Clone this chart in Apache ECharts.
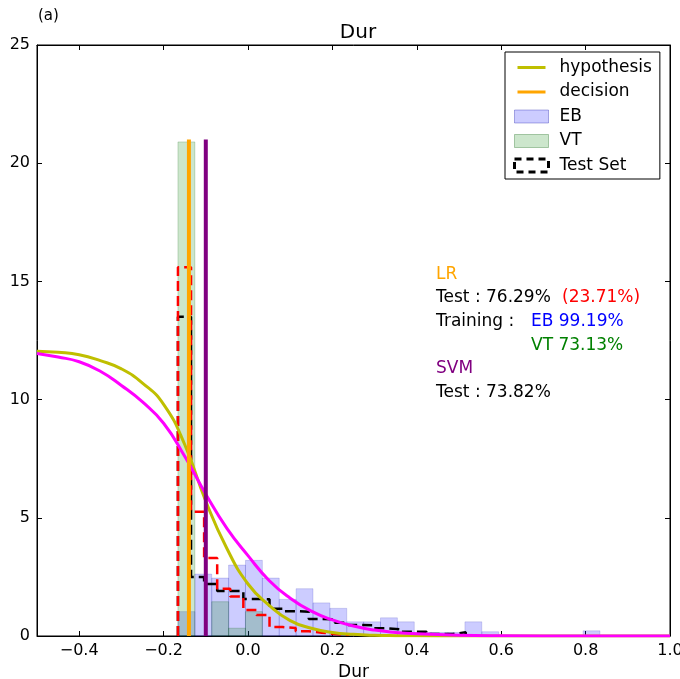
<!DOCTYPE html>
<html><head><meta charset="utf-8">
<script src="https://cdn.jsdelivr.net/npm/echarts@6/dist/echarts.min.js"></script>
<style>html,body{margin:0;padding:0;background:#fff}#c{width:680px;height:679px}</style>
</head><body><div id="c"></div>
<script>
// ---- data ----
const histStart = -0.166;
const ebBinWidth = 0.04;
const ebCounts = [1.03, 2.62, 2.45, 3.0, 3.2, 2.45, 1.55, 2.0, 1.4, 1.17, 0.6, 0.6, 0.77, 0.6, 0.15, 0.15, 0.15, 0.6, 0.18, 0, 0, 0, 0, 0, 0.22];
const vtCounts = [20.9, 0, 1.45, 0.33, 1.03];
const testBinWidth = 0.031;
const testSetCounts = [13.5, 2.5, 2.2, 1.9, 1.9, 1.57, 1.55, 1.15, 1.05, 1.03, 0.72, 0.7, 0.56, 0.47, 0.45, 0.33, 0.28, 0.18, 0.18, 0.08, 0.08, 0.16];
const testRedCounts = [15.6, 5.26, 3.3, 2.0, 1.67, 1.1, 0.89, 0.38, 0.34, 0.2, 0.14, 0.08, 0.05];
const curveX = [-0.5, -0.45, -0.4, -0.35, -0.3, -0.25, -0.2, -0.15, -0.1, -0.05, 0.0, 0.05, 0.1, 0.15, 0.2, 0.25, 0.3, 0.35, 0.4, 0.5, 0.6, 0.8, 1.0];
const hypothesisY = [12.05, 12.0, 11.9, 11.65, 11.3, 10.7, 9.8, 8.1, 5.7, 3.7, 2.2, 1.3, 0.65, 0.33, 0.15, 0.07, 0.03, 0.015, 0.01, 0, 0, 0, 0];
const svmCurveY = [11.95, 11.8, 11.6, 11.2, 10.6, 9.9, 9.0, 7.6, 6.0, 4.55, 3.4, 2.35, 1.6, 1.05, 0.68, 0.42, 0.25, 0.15, 0.09, 0.03, 0.01, 0, 0];
const decisionX = -0.14;
const svmX = -0.1;
const vLineTop = 21;
const yTickLabels = ['0', '5', '10', '15', '20', '25'];
const xTickLabels = ['\u22120.4', '\u22120.2', '0.0', '0.2', '0.4', '0.6', '0.8', '1.0'];

// ---- build ----
const FONT = 'DejaVu Sans';
function stepData(start, w, counts) {
  const pts = [[start, 0]];
  counts.forEach((c, i) => pts.push([start + i * w, c]));
  pts.push([start + counts.length * w, 0]);
  return pts;
}
function barSeries(name, counts, w, color, border, z) {
  return {
    type: 'custom', name, z,
    data: counts.map((c, i) => [histStart + i * w, histStart + (i + 1) * w, c]).filter(d => d[2] > 0),
    encode: { x: [0, 1], y: 2 },
    itemStyle: { color },
    renderItem(params, api) {
      const p0 = api.coord([api.value(0), 0]);
      const p1 = api.coord([api.value(1), api.value(2)]);
      return { type: 'rect', shape: { x: p0[0], y: p1[1], width: p1[0] - p0[0], height: p0[1] - p1[1] },
        style: { fill: color, stroke: border, lineWidth: 1 } };
    }
  };
}
function fmtX(v) {
  const s = (Math.round(v * 10) / 10).toFixed(1);
  const lab = s.replace('-', '\u2212');
  return xTickLabels.indexOf(lab) >= 0 ? lab : '';
}
function fmtY(v) { const s = String(Math.round(v)); return yTickLabels.indexOf(s) >= 0 ? s : ''; }

const EB_C = 'rgba(0,0,255,0.2)', VT_C = 'rgba(0,128,0,0.2)';
const linePath = 'path://M0,0h0.01v0.01h-0.01z M33.99,12.99h0.01v0.01h-0.01z M3,5h28v3h-28z';

const chart = echarts.init(document.getElementById('c'), null, { renderer: 'canvas' });
const axisCommon = {
  axisLine: { show: true, onZero: false, lineStyle: { color: '#000', width: 1 } },
  axisTick: { show: true, inside: true, length: 5, lineStyle: { color: '#000' } },
  splitLine: { show: false }
};
chart.setOption({
  animation: false,
  backgroundColor: '#fff',
  title: { text: 'Dur', left: 353, top: 18, textAlign: 'center',
    textStyle: { fontFamily: FONT, fontSize: 20, fontWeight: 'normal', color: '#000' } },
  grid: { left: 37, right: 10, top: 45, bottom: 43, show: true, borderColor: '#000', borderWidth: 1,
    containLabel: false, outerBoundsMode: 'none' },
  xAxis: [
    Object.assign({ type: 'value', min: -0.5, max: 1.0, splitNumber: 7, position: 'bottom',
      name: 'Dur', nameLocation: 'middle', nameGap: 23,
      nameTextStyle: { fontFamily: FONT, fontSize: 17, color: '#000' },
      axisLabel: { showMinLabel: false, formatter: fmtX, margin: 7, fontFamily: FONT, fontSize: 16, color: '#000' } }, axisCommon),
    Object.assign({ type: 'value', min: -0.5, max: 1.0, splitNumber: 7, position: 'top', axisLabel: { show: false } }, axisCommon)
  ],
  yAxis: [
    Object.assign({ type: 'value', min: 0, max: 25, interval: 5, position: 'left',
      axisLabel: { formatter: fmtY, margin: 7, fontFamily: FONT, fontSize: 16, color: '#000' } }, axisCommon),
    Object.assign({ type: 'value', min: 0, max: 25, interval: 5, position: 'right', axisLabel: { show: false } }, axisCommon)
  ],
  legend: {
    orient: 'vertical', left: 505, top: 52, padding: [7, 8, 5, 8], itemGap: 7.5,
    itemWidth: 34, itemHeight: 13, backgroundColor: '#fff', borderColor: '#000', borderWidth: 1, borderRadius: 0,
    selectedMode: false,
    textStyle: { fontFamily: FONT, fontSize: 17, color: '#000', padding: [0, 0, 0, 6] },
    data: [
      { name: 'hypothesis', icon: linePath },
      { name: 'decision', icon: linePath },
      { name: 'EB', icon: 'rect', itemStyle: { color: EB_C, borderColor: 'rgba(0,0,160,0.3)', borderWidth: 1 } },
      { name: 'VT', icon: 'rect', itemStyle: { color: VT_C, borderColor: 'rgba(0,90,0,0.3)', borderWidth: 1 } },
      { name: 'Test Set', icon: 'rect', itemStyle: { color: 'rgba(0,0,0,0)', borderColor: '#000', borderWidth: 3, borderType: [7, 5] } }
    ]
  },
  graphic: [
    { type: 'text', left: 38, top: 9, style: { text: '(a)', fontFamily: FONT, fontSize: 15, fill: '#000' } },
    { type: 'text', x: 436, y: 275, style: { text: 'LR', fontFamily: FONT, fontSize: 17, fill: '#ffa500', verticalAlign: 'middle' } },
    { type: 'text', x: 436, y: 298, style: { text: 'Test : 76.29%', fontFamily: FONT, fontSize: 17, fill: '#000', verticalAlign: 'middle' } },
    { type: 'text', x: 562, y: 298, style: { text: '(23.71%)', fontFamily: FONT, fontSize: 17, fill: '#ff0000', verticalAlign: 'middle' } },
    { type: 'text', x: 436, y: 322, style: { text: 'Training :', fontFamily: FONT, fontSize: 17, fill: '#000', verticalAlign: 'middle' } },
    { type: 'text', x: 531, y: 322, style: { text: 'EB 99.19%', fontFamily: FONT, fontSize: 17, fill: '#0000ff', verticalAlign: 'middle' } },
    { type: 'text', x: 531, y: 346, style: { text: 'VT 73.13%', fontFamily: FONT, fontSize: 17, fill: '#008000', verticalAlign: 'middle' } },
    { type: 'text', x: 436, y: 369, style: { text: 'SVM', fontFamily: FONT, fontSize: 17, fill: '#800080', verticalAlign: 'middle' } },
    { type: 'text', x: 436, y: 393, style: { text: 'Test : 73.82%', fontFamily: FONT, fontSize: 17, fill: '#000', verticalAlign: 'middle' } }
  ],
  series: [
    barSeries('EB', ebCounts, ebBinWidth, EB_C, 'rgba(0,0,160,0.15)', 1),
    barSeries('VT', vtCounts, ebBinWidth, VT_C, 'rgba(0,90,0,0.2)', 1),
    { type: 'line', name: 'Test Set', step: 'end', symbol: 'none', z: 3,
      data: stepData(histStart, testBinWidth, testSetCounts),
      itemStyle: { color: '#000' }, lineStyle: { color: '#000', width: 2.5, type: [10, 5] } },
    { type: 'line', name: 'test-red', step: 'end', symbol: 'none', z: 3,
      data: stepData(histStart, testBinWidth, testRedCounts),
      lineStyle: { color: '#ff0000', width: 2.5, type: [10, 5] } },
    { type: 'line', name: 'hypothesis', symbol: 'none', smooth: true, z: 5,
      data: curveX.map((x, i) => [x, hypothesisY[i]]),
      itemStyle: { color: '#bfbf00' }, lineStyle: { color: '#bfbf00', width: 3 } },
    { type: 'line', name: 'svm-curve', symbol: 'none', smooth: true, z: 5,
      data: curveX.map((x, i) => [x, svmCurveY[i]]),
      lineStyle: { color: '#ff00ff', width: 3 } },
    { type: 'line', name: 'decision', symbol: 'none', z: 6,
      data: [[decisionX, 0], [decisionX, vLineTop]],
      itemStyle: { color: '#ffa500' }, lineStyle: { color: '#ffa500', width: 4 } },
    { type: 'line', name: 'svm', symbol: 'none', z: 6,
      data: [[svmX, 0], [svmX, vLineTop]],
      lineStyle: { color: '#800080', width: 4 } }
  ]
});
</script></body></html>
